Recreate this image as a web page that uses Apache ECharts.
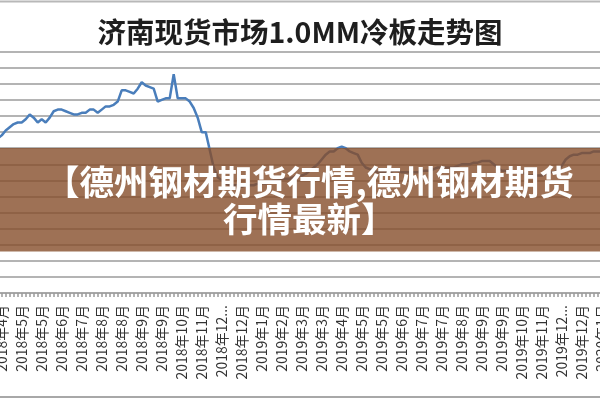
<!DOCTYPE html>
<html>
<head>
<meta charset="utf-8">
<style>
  html, body { margin: 0; padding: 0; background: #ffffff; }
  #chart { width: 600px; height: 400px; }
</style>
<script src="https://cdn.jsdelivr.net/npm/echarts@6/dist/echarts.min.js"></script>
</head>
<body>
<div id="chart"></div>
<script>
// ---- data ----
const titleText = '济南现货市场1.0MM冷板走势图';
const bannerLine1 = '【德州钢材期货行情,德州钢材期货';
const bannerLine2 = '行情最新】';

const tickLabels = [
  '2018年4月', '2018年5月', '2018年5月', '2018年6月', '2018年7月', '2018年8月',
  '2018年8月', '2018年9月', '2018年9月', '2018年10月', '2018年11月', '2018年12...',
  '2018年12月', '2019年1月', '2019年2月', '2019年3月', '2019年3月', '2019年4月',
  '2019年5月', '2019年5月', '2019年6月', '2019年7月', '2019年7月', '2019年8月',
  '2019年9月', '2019年9月', '2019年10月', '2019年11月', '2019年12...', '2019年12月',
  '2020年1月'
];

const prices = [
  4760, 4780, 4810, 4830, 4850, 4860, 4860, 4880, 4910, 4890,
  4860, 4880, 4860, 4890, 4930, 4940, 4940, 4930, 4920, 4910,
  4910, 4920, 4920, 4940, 4940, 4920, 4940, 4960, 4960, 4970,
  4990, 5060, 5060, 5050, 5040, 5070, 5110, 5090, 5080, 5070,
  4990, 5000, 5010, 5010, 5160, 5010, 5010, 5010, 4990, 4950,
  4890, 4800, 4800, 4690, 4580, 4520, 4500, 4480, 4470, 4470,
  4470, 4460, 4470, 4470, 4470, 4480, 4480, 4480, 4490, 4500,
  4500, 4510, 4510, 4510, 4520, 4530, 4530, 4540, 4560, 4580,
  4600, 4630, 4660, 4680, 4680, 4700, 4710, 4700, 4680, 4670,
  4660, 4610, 4580, 4570, 4560, 4550, 4550, 4550, 4550, 4560,
  4560, 4550, 4550, 4550, 4550, 4550, 4560, 4560, 4560, 4570,
  4580, 4580, 4580, 4580, 4580, 4590, 4600, 4600, 4600, 4610,
  4610, 4620, 4620, 4620, 4600, 4580, 4560, 4560, 4560, 4550,
  4550, 4550, 4540, 4530, 4530, 4530, 4530, 4540, 4550, 4550,
  4560, 4590, 4630, 4650, 4660, 4660, 4670, 4670, 4670, 4680,
  4680, 4680
];

const yMin = 3800, yMax = 5300, yStep = 100;
const labelEvery = 5, labelOffset = 1;

// ---- chart ----
const categories = prices.map((_, i) => String(i));
const chart = echarts.init(document.getElementById('chart'), null, { renderer: 'canvas' });
const CJK = '"Noto Sans CJK SC", "Noto Sans", sans-serif';

chart.setOption({
  backgroundColor: '#ffffff',
  animation: false,
  title: {
    text: titleText,
    left: 'center',
    top: 13,
    textStyle: { fontFamily: CJK, fontSize: 28.5, fontWeight: 'bold', color: '#1e1e1e' }
  },
  grid: {
    left: -2.3, right: -1.7, top: 51.7, bottom: 107,
    containLabel: false,
    outerBoundsMode: 'none'
  },
  xAxis: {
    type: 'category',
    boundaryGap: false,
    data: categories,
    axisLine: { show: true, lineStyle: { color: '#a8a8a8', width: 2 } },
    axisTick: { show: true, interval: 0, length: 4, lineStyle: { color: '#9a9a9a', width: 1.5 } },
    axisLabel: {
      interval: function (i) { return i % labelEvery === labelOffset; },
      formatter: function (v, i) {
        const k = (i - labelOffset) / labelEvery;
        return tickLabels[k] !== undefined ? tickLabels[k] : '';
      },
      rotate: 90,
      margin: 12,
      fontSize: 14,
      fontFamily: CJK,
      color: '#333333'
    },
    splitLine: { show: false }
  },
  yAxis: {
    type: 'value',
    min: yMin, max: yMax, interval: yStep,
    axisLabel: { show: false },
    axisLine: { show: false },
    axisTick: { show: false },
    splitLine: { show: true, lineStyle: { color: '#b4b4b4', width: 2 } }
  },
  series: [{
    type: 'line',
    data: prices,
    showSymbol: false,
    smooth: false,
    lineStyle: { color: '#4a7ebb', width: 2.5 },
    z: 3
  }],
  graphic: [
    { type: 'line', z: 50, shape: { x1: 0, y1: 1.5, x2: 600, y2: 1.5 }, style: { stroke: '#b8b8b8', lineWidth: 2 } },
    { type: 'line', z: 50, shape: { x1: 0, y1: 397, x2: 600, y2: 397 }, style: { stroke: '#a8a8a8', lineWidth: 2 } },
    { type: 'rect', z: 100, shape: { x: 0, y: 148, width: 600, height: 103.5 }, style: { fill: 'rgba(134,78,42,0.8)' } },
    { type: 'text', z: 101, x: 45, y: 182,
      style: { text: bannerLine1, fill: '#ffffff', font: 'bold 34.5px "Noto Sans CJK SC", sans-serif', textAlign: 'left', textVerticalAlign: 'middle' } },
    { type: 'text', z: 101, x: 223, y: 219,
      style: { text: bannerLine2, fill: '#ffffff', font: 'bold 34.5px "Noto Sans CJK SC", sans-serif', textAlign: 'left', textVerticalAlign: 'middle' } }
  ]
});
</script>
</body>
</html>
